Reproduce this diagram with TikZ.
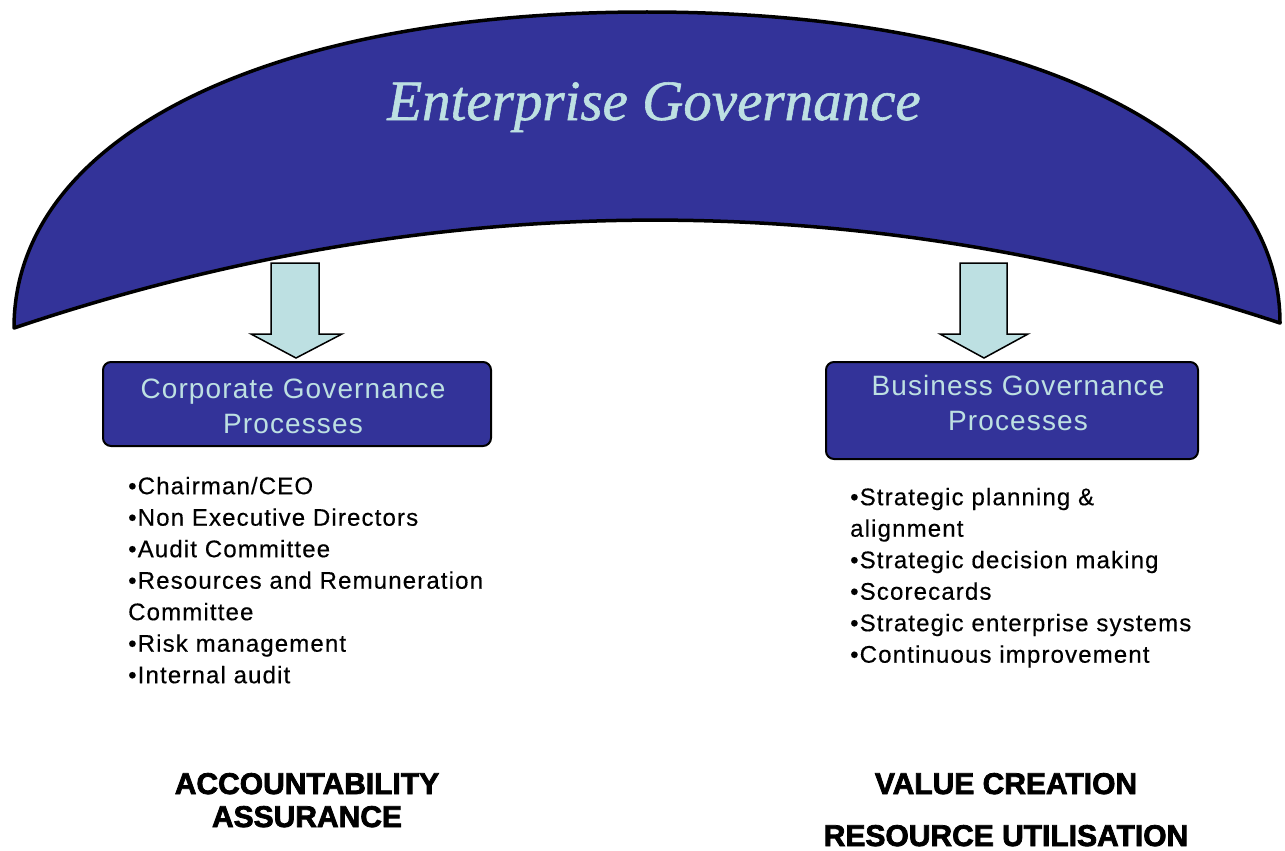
\documentclass[tikz,border=0pt]{standalone}
\usepackage{fontspec}
\setmainfont{Liberation Sans}
\newfontfamily\titlefont[ItalicFeatures={FakeBold=1}]{Liberation Serif}
\newfontfamily\boxfont[LetterSpace=4]{Liberation Sans}
\newfontfamily\listfont[LetterSpace=4.8,FakeBold=0.4]{Liberation Sans}
\newfontfamily\heavyfont[BoldFeatures={FakeBold=2.5}]{Liberation Sans}
\definecolor{navy}{HTML}{333399}
\definecolor{paleteal}{HTML}{BDE0E2}
\newcommand{\twolines}[3]{\raisebox{#1}[\height][\depth]{\begin{tabular}{@{}c@{}}#2\\#3\end{tabular}}}
\tikzset{
  govbox/.style={draw=black, line width=2pt, fill=navy, rounded corners=8pt,
    text=paleteal, align=center, font=\boxfont\fontsize{28}{35}\selectfont, inner sep=0pt},
  downarrow/.style={draw=black, line width=1.5pt, fill=paleteal, line join=miter},
  listtext/.style={anchor=north west, inner sep=0pt, align=left,
    font=\listfont\fontsize{24}{31.5}\selectfont},
  heavytext/.style={anchor=base, inner sep=0pt,
    font=\heavyfont\bfseries\fontsize{30}{33}\selectfont}
}
\begin{document}
\begin{tikzpicture}[x=1pt,y=-1pt]
\useasboundingbox (0,0) rectangle (1285,851);
% arch
\draw[line width=3.5pt, fill=navy, line join=round]
  (14,328) .. controls (14,138) and (265,12) .. (647,12)
           .. controls (1027,12) and (1280,136) .. (1280,323)
           .. controls (858,184) and (436,186) .. cycle;
\node[inner sep=0pt, anchor=base, text=paleteal,
  font=\titlefont\itshape\fontsize{57}{62}\selectfont] (title) at (654,120) {Enterprise Governance};
% arrows
\draw[downarrow] (271,263) -- (319,263) -- (319,334) -- (342,334) -- (296,358)
  -- (251,334) -- (271,334) -- cycle;
\draw[downarrow] (960,263) -- (1007,263) -- (1007,334) -- (1028,334) -- (984,358)
  -- (940,334) -- (960,334) -- cycle;
% boxes
\node[govbox, minimum width=388pt, minimum height=84pt] (cgp) at (297,404)
  {\hspace*{-8pt}\twolines{-4.5pt}{Corporate Governance}{Processes}};
\node[govbox, minimum width=372pt, minimum height=97pt] (bgp) at (1012,410.5)
  {\hspace*{12pt}\twolines{4.5pt}{Business Governance}{Processes}};
% lists
\node[listtext] (cglist) at (128,474)
  {\rule{0pt}{20pt}•Chairman/CEO\\
   •Non Executive Directors\\
   •Audit Committee\\
   •Resources and Remuneration\\
   Committee\\
   •Risk management\\
   •Internal audit};
\node[listtext] (bglist) at (850,485)
  {\rule{0pt}{20pt}•Strategic planning \&\\
   alignment\\
   •Strategic decision making\\
   •Scorecards\\
   •Strategic enterprise systems\\
   •Continuous improvement};
% bottom labels
\node[heavytext] (acc1) at (307,794) {ACCOUNTABILITY};
\node[heavytext] (acc2) at (307,827) {ASSURANCE};
\node[heavytext] (val1) at (1006,794) {VALUE CREATION};
\node[heavytext] (val2) at (1006,846) {RESOURCE UTILISATION};
\end{tikzpicture}
\end{document}
